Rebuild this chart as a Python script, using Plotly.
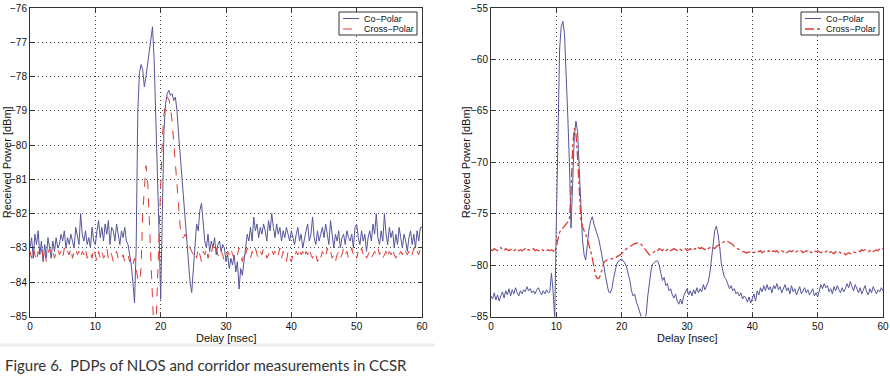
import numpy as np
import plotly.graph_objects as go

# Delay grid (nsec), 0.25 ns sampling
delay = np.linspace(0, 60, 241)

# Left panel (NLOS)
nlos_co = [
    -83.0, -82.7, -83.3, -82.6, -82.9, -82.5, -83.2, -82.8, -83.4, -82.9, -83.3, -82.7,
    -83.0, -83.3, -82.8, -83.1, -82.7, -83.0, -82.9, -82.6, -82.8, -82.5, -83.0, -82.7,
    -82.9, -82.6, -82.8, -83.0, -82.4, -82.7, -82.9, -82.0, -82.6, -82.8, -82.5, -82.9,
    -82.7, -83.0, -82.4, -82.8, -82.9, -82.5, -82.2, -82.7, -82.4, -82.8, -82.3, -82.6,
    -82.2, -82.9, -82.4, -82.5, -82.8, -82.3, -82.6, -82.9, -82.5, -82.7, -82.4, -82.8,
    -82.9, -83.2, -83.5, -84.0, -84.6, -83.0, -79.0, -77.9, -77.65, -77.8, -78.3, -78.0,
    -77.6, -77.2, -76.8, -76.55, -77.5, -79.0, -80.8, -82.5, -84.5, -81.5, -79.6, -78.8,
    -78.5, -78.4, -78.55, -78.5, -78.7, -78.6, -79.0, -79.7, -80.3, -80.9, -81.5, -82.0,
    -82.6, -83.3, -84.0, -84.3, -83.6, -82.8, -82.3, -82.5, -81.9, -81.7, -82.4, -82.8,
    -83.0, -82.6, -83.1, -82.8, -83.0, -82.7, -83.2, -82.9, -82.8, -83.1, -82.9, -83.0,
    -83.4, -83.2, -83.6, -83.3, -83.5, -83.2, -83.7, -83.4, -84.2, -83.6, -83.8, -83.3,
    -83.0, -82.6, -82.8, -82.4, -82.8, -82.1, -82.5, -82.3, -82.7, -82.4, -82.6, -82.3,
    -82.5, -82.8, -82.2, -82.5, -82.0, -82.4, -82.7, -82.3, -82.6, -82.4, -82.8, -82.5,
    -82.7, -82.4, -82.6, -82.8, -82.5, -82.7, -82.9, -82.6, -82.4, -82.8, -82.6, -83.0,
    -82.7, -82.5, -82.3, -82.8, -82.6, -82.1, -82.7, -82.9, -82.5, -82.8, -82.6, -82.4,
    -82.7, -82.3, -82.6, -82.9, -82.2, -82.7, -83.0, -82.6, -82.8, -82.5, -83.0, -82.7,
    -82.6, -82.9, -82.5, -82.7, -82.8, -82.6, -83.0, -82.4, -82.3, -82.7, -82.9, -82.5,
    -82.8, -82.6, -83.1, -82.7, -82.5, -82.8, -82.3, -82.6, -82.0, -82.7, -82.9, -82.5,
    -82.8, -82.0, -82.6, -82.9, -82.4, -82.7, -82.5, -83.0, -82.6, -82.9, -82.4, -82.7,
    -83.0, -82.6, -82.8, -83.1, -82.7, -82.5, -82.9, -82.6, -83.0, -82.5, -82.8, -82.4,
    -82.4,
]
nlos_cross = [
    -83.1, -83.3, -83.0, -83.2, -83.4, -83.1, -83.2, -83.0, -83.3, -83.1, -83.4, -83.2,
    -83.0, -83.2, -83.1, -83.3, -83.1, -83.0, -83.2, -83.1, -83.3, -83.0, -83.2, -83.1,
    -83.2, -83.0, -83.3, -83.1, -83.0, -83.2, -83.1, -83.3, -83.1, -83.2, -83.0, -83.3,
    -83.2, -83.1, -83.3, -83.0, -83.2, -83.4, -83.1, -83.3, -83.1, -83.3, -83.2, -83.0,
    -83.3, -83.1, -83.2, -83.4, -83.2, -83.1, -83.3, -83.2, -83.3, -83.2, -83.4, -83.3,
    -83.2, -83.4, -83.3, -83.5, -83.3, -83.6, -83.9, -84.0, -83.6, -82.0, -81.2, -80.6,
    -81.0, -82.3, -83.8, -85.2, -85.6, -85.5, -84.0, -82.3, -80.8, -79.8, -79.1, -78.8,
    -78.6, -78.65, -78.9, -79.3, -79.9, -80.6, -81.3, -81.9, -82.4, -82.7, -82.7, -82.6,
    -82.7, -82.8, -83.0, -83.1, -83.2, -83.1, -83.3, -83.0, -83.2, -83.4, -83.1, -83.2,
    -83.0, -83.3, -83.1, -83.2, -82.9, -82.8, -83.0, -83.2, -83.3, -83.1, -83.2, -83.4,
    -83.3, -83.1, -83.2, -83.0, -83.2, -83.3, -83.1, -83.2, -83.0, -83.2, -83.4, -83.1,
    -83.2, -83.0, -83.1, -83.3, -83.1, -83.2, -83.0, -83.2, -83.3, -83.1, -83.2, -83.0,
    -83.1, -83.3, -83.2, -83.1, -83.0, -83.2, -83.1, -83.3, -83.2, -83.0, -83.3, -83.1,
    -83.2, -83.4, -83.1, -83.3, -83.4, -83.2, -83.3, -83.1, -83.2, -83.0, -83.2, -83.1,
    -83.3, -83.1, -83.2, -83.0, -83.2, -83.3, -83.1, -83.2, -83.4, -83.2, -83.3, -83.1,
    -83.2, -83.3, -83.0, -83.2, -83.1, -83.3, -83.2, -83.4, -83.2, -83.1, -83.3, -83.2,
    -83.0, -83.2, -83.1, -83.3, -83.2, -83.0, -83.2, -83.1, -83.3, -83.1, -83.2, -83.0,
    -83.2, -83.1, -83.3, -83.2, -83.1, -83.3, -83.2, -83.1, -83.2, -83.0, -83.2, -83.1,
    -83.3, -83.2, -83.1, -83.3, -83.1, -83.2, -83.0, -83.2, -83.3, -83.1, -83.2, -83.1,
    -83.2, -83.0, -83.1, -83.2, -83.1, -83.3, -83.2, -83.0, -83.2, -83.1, -83.2, -83.0,
    -83.1,
]

# Right panel (corridor)
corr_co = [
    -83.0, -83.3, -82.7, -83.4, -82.9, -83.5, -83.0, -82.6, -83.2, -82.5, -82.9, -82.3,
    -83.0, -82.4, -82.8, -82.2, -82.7, -83.0, -82.5, -82.8, -82.4, -82.6, -82.1, -82.5,
    -82.3, -82.7, -82.5, -82.8, -82.4, -82.2, -82.6, -82.9, -82.5, -82.8, -82.4, -82.7,
    -82.6, -80.8, -82.5, -85.2, -76.0, -66.0, -59.0, -56.8, -56.3, -57.5, -61.0, -65.5,
    -70.0, -76.4, -72.0, -67.5, -66.0, -67.0, -70.5, -74.5, -77.5, -79.0, -79.5, -78.0,
    -76.5, -75.7, -75.3, -76.0, -76.5, -77.0, -77.5, -78.3, -79.0, -80.0, -81.0, -82.0,
    -82.6, -82.7, -82.3, -81.3, -80.5, -79.9, -79.6, -79.5, -79.4, -79.6, -79.8, -80.2,
    -80.8, -81.5, -82.5, -83.0, -82.8, -83.6, -84.0, -84.5, -85.2, -85.6, -85.3, -84.8,
    -83.0, -81.5, -80.5, -79.9, -79.7, -79.6, -79.6, -80.0, -80.8, -81.5, -81.2, -82.0,
    -81.8, -82.5, -82.3, -82.9, -83.2, -82.8, -83.5, -83.8, -83.3, -83.8, -83.0, -82.6,
    -82.3, -82.9, -82.5, -83.0, -82.4, -82.8, -82.2, -82.7, -82.3, -82.6, -81.9, -82.4,
    -82.0, -81.6, -80.8, -79.5, -78.0, -76.6, -76.2, -77.0, -78.2, -79.8, -80.6, -81.2,
    -81.4, -81.8, -82.3, -82.0, -82.5, -82.3, -82.8, -82.6, -83.0, -82.7, -83.3, -83.0,
    -83.2, -83.6, -83.1, -83.7, -83.3, -82.8, -83.5, -82.5, -82.9, -82.2, -82.6, -82.0,
    -82.5, -81.9, -82.4, -82.1, -82.7, -82.0, -82.3, -81.8, -82.4, -82.1, -82.7, -82.3,
    -81.9, -82.5, -82.2, -82.8, -82.0, -82.6, -82.3, -82.9, -82.4, -82.1, -82.8, -82.5,
    -82.2, -82.7, -82.4, -82.9, -82.6, -82.3, -83.0, -82.7, -83.1, -82.4, -81.9, -82.3,
    -81.8, -82.2, -82.0, -82.6, -82.3, -82.8, -82.1, -82.5, -82.0, -82.4, -82.7, -82.2,
    -82.6, -82.3, -81.8, -82.2, -81.6, -82.1, -82.5, -81.9, -82.3, -82.7, -82.2, -82.8,
    -82.4, -82.0, -82.6, -82.9, -82.3, -82.7, -82.1, -82.5, -82.8, -82.4, -82.6, -82.2,
    -82.5,
]
corr_cross = [
    -78.5, -78.6, -78.4, -78.5, -78.6, -78.5, -78.3, -78.5, -78.6, -78.4, -78.5, -78.6,
    -78.5, -78.4, -78.6, -78.5, -78.4, -78.6, -78.5, -78.6, -78.5, -78.4, -78.6, -78.5,
    -78.6, -78.5, -78.4, -78.6, -78.5, -78.6, -78.5, -78.4, -78.6, -78.5, -78.6, -78.5,
    -78.6, -78.5, -78.6, -78.8, -78.2, -77.3, -76.8, -76.6, -76.4, -76.3, -76.1, -75.9,
    -75.6, -73.0, -68.5, -66.7, -67.2, -69.5, -73.0, -75.5, -76.3, -76.6, -77.0, -77.5,
    -78.0, -78.6, -79.3, -80.2, -81.0, -81.3, -81.3, -81.0, -80.3, -79.8, -79.6, -79.5,
    -79.5, -79.4, -79.4, -79.3, -79.3, -79.2, -79.1, -79.0, -78.9, -78.7, -78.5, -78.4,
    -78.3, -78.2, -78.1, -78.0, -77.9, -77.9, -77.8, -77.9, -78.0, -78.2, -78.4, -78.6,
    -78.8, -79.0, -78.9, -78.8, -78.7, -78.5, -78.6, -78.4, -78.5, -78.6, -78.4, -78.6,
    -78.5, -78.4, -78.6, -78.5, -78.4, -78.5, -78.6, -78.4, -78.5, -78.6, -78.5, -78.4,
    -78.6, -78.5, -78.4, -78.6, -78.5, -78.4, -78.5, -78.3, -78.4, -78.3, -78.4, -78.5,
    -78.3, -78.4, -78.3, -78.2, -78.3, -78.4, -78.2, -78.1, -78.0, -77.9, -77.8, -77.7,
    -77.6, -77.7, -77.8, -77.9, -78.0, -78.2, -78.3, -78.4, -78.5, -78.6, -78.7, -78.7,
    -78.8, -78.8, -78.7, -78.8, -78.7, -78.8, -78.7, -78.6, -78.7, -78.6, -78.8, -78.7,
    -78.6, -78.7, -78.6, -78.8, -78.7, -78.6, -78.7, -78.6, -78.8, -78.7, -78.6, -78.7,
    -78.6, -78.8, -78.7, -78.6, -78.7, -78.6, -78.8, -78.7, -78.6, -78.7, -78.6, -78.8,
    -78.7, -78.6, -78.7, -78.6, -78.8, -78.7, -78.6, -78.7, -78.6, -78.7, -78.8, -78.7,
    -78.8, -78.7, -78.6, -78.8, -78.7, -78.8, -78.9, -78.7, -78.8, -78.7, -78.8, -78.9,
    -78.8, -79.0, -78.9, -78.8, -78.9, -78.8, -78.7, -78.8, -78.7, -78.6, -78.7, -78.5,
    -78.6, -78.5, -78.6, -78.7, -78.6, -78.5, -78.7, -78.6, -78.5, -78.6, -78.4, -78.5,
    -78.4,
]

series_names = ["Co\u2212Polar", "Cross\u2212Polar"]
left_yticks = list(range(-85, -75, 1))
right_yticks = list(range(-85, -54, 5))
x_ticks = [0, 10, 20, 30, 40, 50, 60]

W, H = 890, 378
CO_COLOR = "#55559a"
X_COLOR = "#dc3a36"
FONT = "Liberation Sans, Arial, sans-serif"

co_line = dict(color=CO_COLOR, width=1)
left_x_line = dict(color=X_COLOR, width=1, dash="dash")
right_x_line = dict(color=X_COLOR, width=1.3, dash="dashdot")

fig = go.Figure()
fig.add_trace(go.Scatter(x=delay, y=nlos_co, mode="lines", name=series_names[0],
                         line=co_line, xaxis="x", yaxis="y"))
fig.add_trace(go.Scatter(x=delay, y=nlos_cross, mode="lines", name=series_names[1],
                         line=left_x_line, xaxis="x", yaxis="y"))
fig.add_trace(go.Scatter(x=delay, y=corr_co, mode="lines", name=series_names[0],
                         line=co_line, xaxis="x2", yaxis="y2"))
fig.add_trace(go.Scatter(x=delay, y=corr_cross, mode="lines", name=series_names[1],
                         line=right_x_line, xaxis="x2", yaxis="y2"))

top_px, bot_px = 8, 316.5
ydom = [1 - bot_px / H, 1 - top_px / H]
axis_common = dict(
    showline=True, linecolor="#333", linewidth=1, mirror="ticks",
    ticks="inside", ticklen=4, tickcolor="#333",
    showgrid=True, gridcolor="#444", griddash="1px,3px", gridwidth=1,
    zeroline=False, automargin=False,
    tickfont=dict(family=FONT, size=10, color="#111"),
)

fig.update_layout(
    width=W, height=H, margin=dict(l=0, r=0, t=0, b=0),
    paper_bgcolor="white", plot_bgcolor="white",
    font=dict(family=FONT, color="#111"),
    xaxis=dict(domain=[30 / W, 422 / W], range=[0, 60], tickvals=x_ticks, anchor="y", **axis_common),
    yaxis=dict(domain=ydom, range=[-85, -76], tickvals=left_yticks, anchor="x", **axis_common),
    xaxis2=dict(domain=[491 / W, 883 / W], range=[0, 60], tickvals=x_ticks, anchor="y2", **axis_common),
    yaxis2=dict(domain=ydom, range=[-85, -55], tickvals=right_yticks, anchor="x2", **axis_common),
    showlegend=False,
)

# Compact MATLAB-style legend boxes (decoration in paper pixels)
def px_x(v):
    return v / W

def px_y(v):
    return 1 - v / H

for box_left, lines in [(339, (co_line, left_x_line)), (801, (co_line, right_x_line))]:
    fig.add_shape(type="rect", xref="paper", yref="paper",
                  x0=px_x(box_left), x1=px_x(box_left + 78), y0=px_y(12), y1=px_y(35),
                  line=dict(color="#333", width=1), fillcolor="white", layer="above")
    for row_y, name, ln in [(18.5, series_names[0], lines[0]), (29, series_names[1], lines[1])]:
        fig.add_shape(type="line", xref="paper", yref="paper",
                      x0=px_x(box_left + 4), x1=px_x(box_left + 20), y0=px_y(row_y), y1=px_y(row_y),
                      line=ln, layer="above")
        fig.add_annotation(text=name, xref="paper", yref="paper",
                           x=px_x(box_left + 23), y=px_y(row_y), xanchor="left", yanchor="middle",
                           showarrow=False, font=dict(family=FONT, size=9, color="#111"))

# Axis titles
for xc in [(30 + 422) / 2, (491 + 883) / 2]:
    fig.add_annotation(text="Delay [nsec]", xref="paper", yref="paper",
                       x=px_x(xc), y=px_y(338), xanchor="center", yanchor="middle",
                       showarrow=False, font=dict(family=FONT, size=11, color="#111"))
for xc in [7, 466]:
    fig.add_annotation(text="Received Power [dBm]", xref="paper", yref="paper",
                       x=px_x(xc), y=px_y((top_px + bot_px) / 2), xanchor="center", yanchor="middle",
                       textangle=-90, showarrow=False, font=dict(family=FONT, size=11, color="#111"))

fig.add_shape(type="line", xref="paper", yref="paper", x0=0, x1=px_x(435),
              y0=px_y(345), y1=px_y(345), line=dict(color="#ececec", width=3))

fig.add_annotation(text="Figure 6.  PDPs of NLOS and corridor measurements in CCSR",
                   xref="paper", yref="paper", x=px_x(3), y=px_y(365),
                   xanchor="left", yanchor="middle", showarrow=False,
                   font=dict(family="Lato, Open Sans, sans-serif", size=15, color="#333"))

fig.write_html(
    "out.html",
    config={"displayModeBar": False},
    post_script="document.body.style.margin='0';document.body.style.padding='0';"
                "document.body.style.overflow='hidden';",
)
